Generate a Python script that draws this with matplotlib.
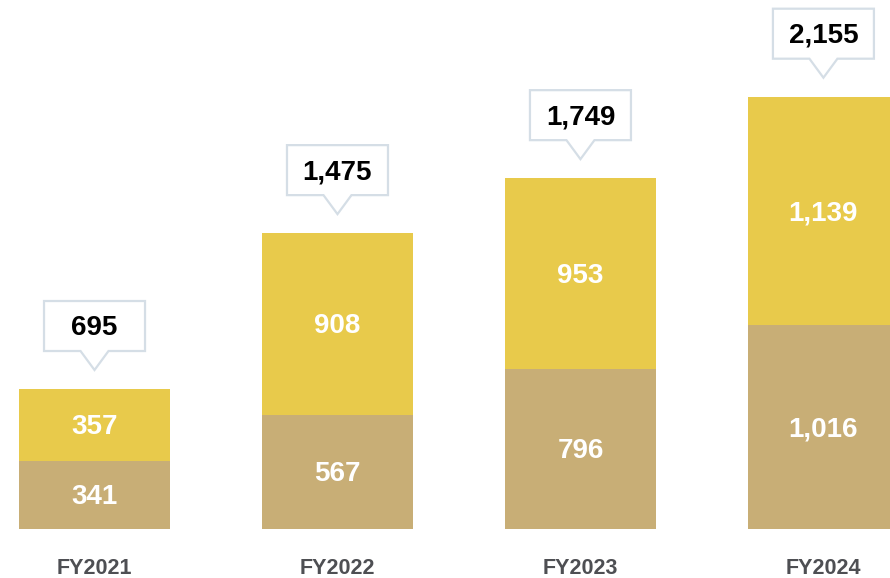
import matplotlib
matplotlib.use("Agg")
import matplotlib.pyplot as plt
from matplotlib.patches import Polygon
from matplotlib.transforms import IdentityTransform
import numpy as np

# Data
years = ["FY2021", "FY2022", "FY2023", "FY2024"]
lower = [341, 567, 796, 1016]
upper = [357, 908, 953, 1139]
totals = [695, 1475, 1749, 2155]

LOWER_COLOR = "#C8AE76"
UPPER_COLOR = "#E8CA4B"
EDGE_COLOR = "#D5DEE6"
FONT = ["Liberation Sans", "DejaVu Sans"]

fig = plt.figure(figsize=(8.9, 5.78), dpi=100)
ax = fig.add_axes([0, 0, 1, 1])
ax.set_xlim(-0.389, 3.274)
ax.set_ylim(-244, 2637)
ax.axis("off")

x = np.arange(len(years))
width = 0.621
ax.bar(x, lower, width=width, color=LOWER_COLOR, zorder=2)
ax.bar(x, upper, width=width, bottom=lower, color=UPPER_COLOR, zorder=2)


def seg_label(xi, y, s):
    ax.annotate(s, (xi, y), xytext=(0, -1.5), textcoords="offset points",
                ha="center", va="center", color="white", fontsize=20,
                fontweight="bold", family=FONT, zorder=3)


for xi, lo, up in zip(x, lower, upper):
    seg_label(xi, lo / 2, f"{lo:,}")
    seg_label(xi, lo + up / 2, f"{up:,}")

# Category labels beneath the bars
for xi, name in zip(x, years):
    ax.text(xi, -198, name, ha="center", va="center", color="#4E4F53",
            fontsize=15.5, fontweight="bold", family=FONT)

# Callout boxes with the totals, pointing at each bar top
fig.canvas.draw()
gap, tri_h, tri_w, box_h, box_w = 19, 19, 14, 50, 101
for xi, lo, up, tot in zip(x, lower, upper, totals):
    px, py = ax.transData.transform((xi, lo + up))
    tip = py + gap
    base = tip + tri_h
    hw = box_w / 2
    verts = [
        (px - hw, base), (px - tri_w, base), (px, tip), (px + tri_w, base),
        (px + hw, base), (px + hw, base + box_h), (px - hw, base + box_h),
    ]
    poly = Polygon(verts, closed=True, facecolor="white", edgecolor=EDGE_COLOR,
                   linewidth=1.6, transform=IdentityTransform(), zorder=4)
    fig.add_artist(poly)
    fig.text(px, base + box_h / 2 - 2, f"{tot:,}", transform=IdentityTransform(),
             ha="center", va="center", color="black", fontsize=20,
             fontweight="bold", family=FONT, zorder=5)

fig.savefig("out.png", dpi=100, facecolor="white")
